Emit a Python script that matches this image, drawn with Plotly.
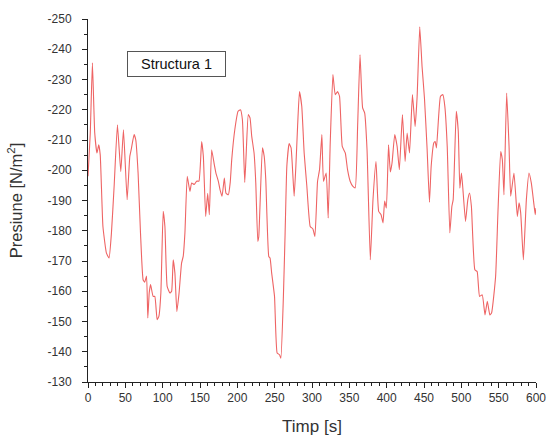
import plotly.graph_objects as go

# Data
time_s = [0, 3, 5.9, 9, 12, 14.4, 16.4, 20, 24.7, 28.2, 31.4, 35, 39.4, 43.9, 47.5, 52.4, 56, 58, 61.7, 64,
          67.1, 70.3, 73.8, 76, 78.4, 80.1, 82, 83.8, 87.2, 89.5, 92.6, 94.9, 97.6, 100.7, 103, 106, 109.7, 112,
          114.1, 116.4, 119, 122, 125.3, 127.5, 129.8, 132.9, 136.5, 138.8, 142.3, 145.5, 148.6, 152.2, 154.5,
          157.6, 160.3, 162.5, 165.6, 169.2, 171.4, 174.5, 176.8, 179.5, 182.6, 184.8, 188, 190.5, 192.5, 196.6,
          201, 204.2, 206.8, 209.9, 211.7, 214.7, 217, 219.3, 222.4, 224.7, 227.4, 228.7, 233.6, 236, 238.1,
          242.1, 243.8, 246, 249.8, 253.3, 256.5, 258.3, 261.7, 264, 266.3, 269.4, 272, 276.1, 278.4, 280.7,
          283.2, 286.3, 289.5, 293.1, 297.6, 301.2, 303.9, 307.4, 310.1, 313.2, 315.4, 319, 321.7, 324.4, 328,
          331.1, 334.3, 336.9, 340.5, 344.6, 347.6, 351.2, 354.8, 357.9, 361.1, 364.3, 367.8, 370.5, 373.7,
          378.1, 381.7, 385.7, 389.3, 392.5, 395.1, 397.3, 399.6, 402.5, 404.9, 407.2, 410.8, 414, 417, 421.1,
          424.7, 427.4, 430.6, 434.5, 438.1, 440.8, 444.3, 447.4, 450.6, 454.2, 457.3, 459.6, 463.1, 464.9,
          466.7, 472, 475.2, 477.9, 481.1, 484.6, 487.3, 489.1, 493.2, 495.9, 498, 500.2, 502, 505.6, 508.7,
          511, 513.5, 518.1, 521.2, 524.4, 528, 531.7, 534.8, 538.2, 540.5, 545.9, 549, 552.7, 554.9, 557.1,
          560.7, 563.9, 566.1, 570.5, 575, 577.3, 579.5, 583.1, 587.1, 590.6, 593.7, 597.3, 599, 600]
pressure = [-198, -212, -235.5, -212.4, -205.7, -208.4, -205, -181.4, -172.6, -171, -179.3, -194.7, -215, -199.6,
            -213.4, -190.3, -204.6, -207, -211.8, -210, -199, -179.3, -163.8, -163, -165, -151.2, -159.5, -162.2,
            -158.3, -158.3, -150.6, -151.7, -159.5, -186.4, -181.4, -161.6, -159.4, -160, -170.4, -166, -153.3,
            -159.5, -169.3, -171.5, -179.3, -198, -193, -195.8, -195.3, -196.4, -196.4, -209.5, -204.5, -184.7,
            -192.4, -185.3, -206.8, -201.8, -199, -196.4, -193.6, -191.4, -197.4, -192.4, -191.9, -196, -203.5,
            -213.4, -219.5, -220, -216.7, -196, -204.6, -218.4, -217.3, -211.2, -205.7, -195.8, -176.5, -178,
            -207.4, -204.6, -196.9, -171.5, -171, -166, -158.3, -139.6, -139, -137.9, -158.3, -179.3, -201.3,
            -208.8, -207.4, -191.4, -201.3, -214.5, -226, -221.1, -205.7, -194.7, -181.4, -180.6, -178.1, -196.3,
            -200.2, -211.8, -196.3, -199.1, -184.2, -209, -231.6, -225, -226, -224.4, -207.9, -205.7, -200.2,
            -196.3, -194.7, -194.2, -214.5, -238.2, -220.6, -219, -206.8, -170.4, -190.3, -202.9, -186.4, -185.3,
            -182.6, -189.8, -187.5, -208.4, -199.4, -202.4, -211.8, -207.9, -200.2, -218.4, -202.9, -212.3,
            -205.7, -225, -214.5, -224.4, -247.4, -234.3, -223.9, -206.8, -189.4, -201.3, -209, -209.5, -207.4,
            -224.4, -225, -221.1, -207.9, -179.3, -188, -190.3, -219.5, -212.9, -194.1, -199.1, -194.1, -183.1,
            -190.3, -192.5, -188, -167.1, -166.5, -158.3, -158.8, -152.2, -156.7, -152.2, -152.8, -164.9, -185.9,
            -206.2, -203.5, -191.9, -225.5, -207.9, -191.4, -199.1, -184.7, -189.2, -185.9, -170.4, -190.3,
            -199.1, -195.8, -188.6, -185.3, -187.5]

y_tick_vals = [-250, -240, -230, -220, -210, -200, -190, -180, -170, -160, -150, -140, -130]
y_tick_text = ["-250", "-240", "-230", "-220", "-210", "-200", "-190", "-180", "-170", "-160", "-150", "-140", "-130"]
x_tick_vals = [0, 50, 100, 150, 200, 250, 300, 350, 400, 450, 500, 550, 600]

FONT = "Liberation Sans, Arial, sans-serif"

fig = go.Figure()
fig.add_trace(go.Scatter(x=time_s, y=pressure, mode="lines",
                         line=dict(color="#ee6464", width=1.1, shape="spline", smoothing=0.4),
                         showlegend=False))

fig.add_annotation(x=118, y=-235, xref="x", yref="y", text="Structura 1", showarrow=False,
                   font=dict(family=FONT, size=14.5, color="#111"), bgcolor="white",
                   bordercolor="#555", borderwidth=1, width=95, height=22)

fig.update_layout(
    width=547, height=436,
    margin=dict(l=88, r=11, t=19, b=54),
    paper_bgcolor="white", plot_bgcolor="white",
    font=dict(family=FONT, size=12, color="#333"),
)
fig.update_xaxes(range=[0, 600], tickvals=x_tick_vals, ticks="outside", ticklen=5, tickcolor="#222",
                 showline=True, linecolor="#222", linewidth=1, showgrid=False, zeroline=False,
                 automargin=False,
                 minor=dict(dtick=10, ticks="outside", ticklen=3, tickcolor="#222"),
                 tickfont=dict(size=12, color="#333"),
                 title=dict(text="Timp [s]", font=dict(size=17, color="#333"), standoff=24))
fig.update_yaxes(range=[-130, -250], tickvals=y_tick_vals, ticktext=y_tick_text, ticks="outside",
                 ticklen=5, tickcolor="#222", showline=True, linecolor="#222", linewidth=1,
                 showgrid=False, zeroline=False, automargin=False, ticklabelstandoff=8,
                 minor=dict(dtick=5, ticks="outside", ticklen=3, tickcolor="#222"),
                 tickfont=dict(size=12, color="#333"),
                 title=dict(text="Presiune [N/m<sup>2</sup>]", font=dict(size=16.5, color="#333"), standoff=20))

fig.write_html("out.html")
